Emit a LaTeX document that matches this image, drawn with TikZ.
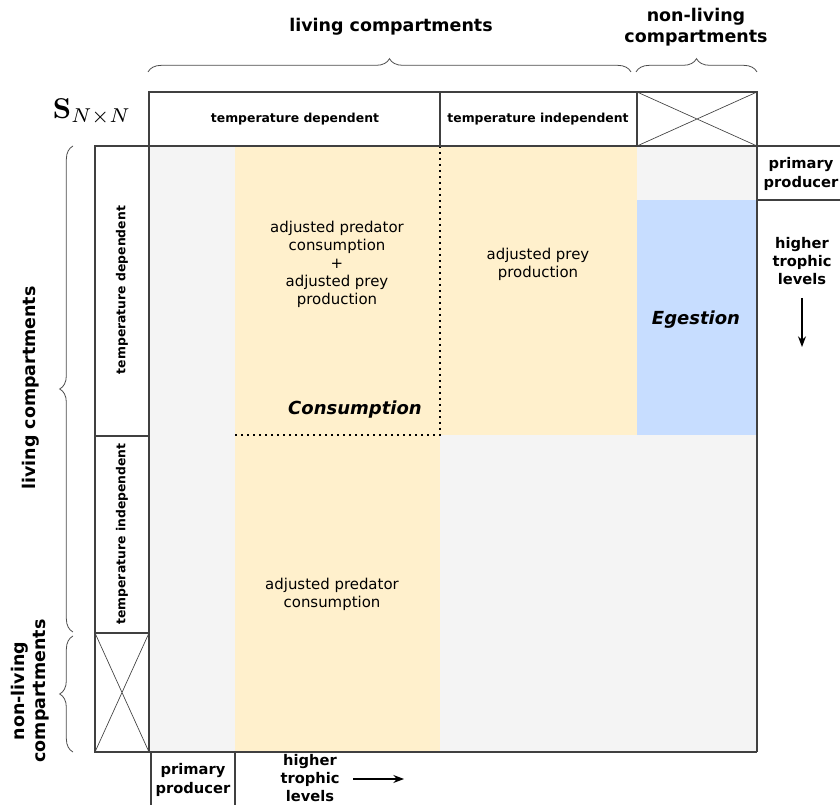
\documentclass[tikz,border=0pt]{standalone}
\usepackage[no-math]{fontspec}
\setmainfont{DejaVu Sans}[ItalicFont={DejaVu Sans Oblique},BoldItalicFont={DejaVu Sans Bold Oblique}]
\usepackage{amsmath}
\usetikzlibrary{decorations.pathreplacing,arrows.meta}

\definecolor{cellgray}{HTML}{F4F4F4}
\definecolor{cellyellow}{HTML}{FFF0CC}
\definecolor{cellblue}{HTML}{C7DDFF}

\begin{document}
\begin{tikzpicture}[x=0.75pt,y=-0.75pt,
        box/.style={draw=black!75,line width=0.8pt},
        hdr/.style={font=\fontsize{9.3}{11}\selectfont\bfseries,align=center},
        txt/.style={font=\fontsize{11.2}{13.5}\selectfont,align=center},
        big/.style={font=\fontsize{13.1}{15.8}\selectfont\bfseries,align=center},
        side/.style={font=\fontsize{11}{13.8}\selectfont\bfseries,align=center},
        proc/.style={font=\fontsize{13.5}{16}\selectfont\bfseries\itshape},
        brc/.style={decorate,decoration={brace,amplitude=10pt},draw=black!70,line width=0.6pt}]
    \useasboundingbox (0,0) rectangle (840,805);

    % Matrix cells
    \fill[cellgray] (149,146) rectangle (757,752);
    \fill[cellyellow] (235,146) rectangle (440,752);
    \fill[cellyellow] (440,146) rectangle (637,435);
    \fill[cellblue] (637,200) rectangle (757,435);
    \draw[line width=1pt,dash pattern=on 1.2pt off 3.3pt] (440,146) -- (440,435) -- (235,435);

    % Header row
    \draw[box] (149,92) rectangle (757,146);
    \draw[box] (440,92) -- (440,146);
    \draw[box] (637,92) -- (637,146);
    \draw[draw=black!75,line width=0.5pt] (637,92) -- (757,146) (637,146) -- (757,92);
    \node[hdr] (tdep) at (295,119) {temperature dependent};
    \node[hdr] (tind) at (538,119) {temperature independent};
    \node (mat) at (92,112) {\scalebox{2.15}{$\mathbf{S}_{N\times N}$}};

    % Left column
    \draw[box] (95,146) rectangle (149,752);
    \draw[box] (95,436) -- (149,436);
    \draw[box] (95,633) -- (149,633);
    \draw[draw=black!75,line width=0.5pt] (95,633) -- (149,752) (95,752) -- (149,633);
    \node[hdr,rotate=90] (ldep) at (122,290) {temperature dependent};
    \node[hdr,rotate=90] (lind) at (122,534) {temperature independent};

    % Matrix borders
    \draw[box] (95,146) -- (850,146);
    \draw[box] (757,146) -- (757,752);
    \draw[box] (95,752) -- (757,752);

    % Primary producer boxes
    \draw[box] (757,200) -- (850,200);
    \node[side] (ppright) at (801,174) {primary\\producer};
    \draw[box] (151,752) -- (151,810);
    \draw[box] (235,752) -- (235,810);
    \node[side] (ppbottom) at (193,780) {primary\\producer};

    % Trophic level arrows
    \node[side] (hright) at (802,261) {higher\\trophic\\levels};
    \coordinate (da) at (802,298);
    \coordinate (db) at (802,347);
    \draw[line width=0.9pt,-{Stealth[length=8pt,width=6pt]}] (da) -- (db);
    \node[side] (hbottom) at (310,778) {higher\\trophic\\levels};
    \coordinate (ra) at (353,779);
    \coordinate (rb) at (404,779);
    \draw[line width=0.9pt,-{Stealth[length=8pt,width=6pt]}] (ra) -- (rb);

    % Braces
    \draw[brc] (148,72) -- (631,72);
    \draw[brc] (636,72) -- (757,72);
    \draw[brc] (73,632) -- (73,146);
    \draw[brc] (73,752) -- (73,636);
    \node[big] (livtop) at (391,27) {living compartments};
    \node[big] (nontop) at (696,27) {non-living\\compartments};
    \node[big,rotate=90] (livleft) at (31,388) {living compartments};
    \node[big,rotate=90] (nonleft) at (30,691) {non-living\\compartments};

    % Cell labels
    \node[txt] (predprey) at (337,264) {adjusted predator\\consumption\\+\\adjusted prey\\production};
    \node[proc] (cons) at (355,410) {Consumption};
    \node[txt] (prey) at (538,264) {adjusted prey\\production};
    \node[proc] (eges) at (696,320) {Egestion};
    \node[txt] (pred) at (332,594) {adjusted predator\\consumption};
\end{tikzpicture}
\end{document}
